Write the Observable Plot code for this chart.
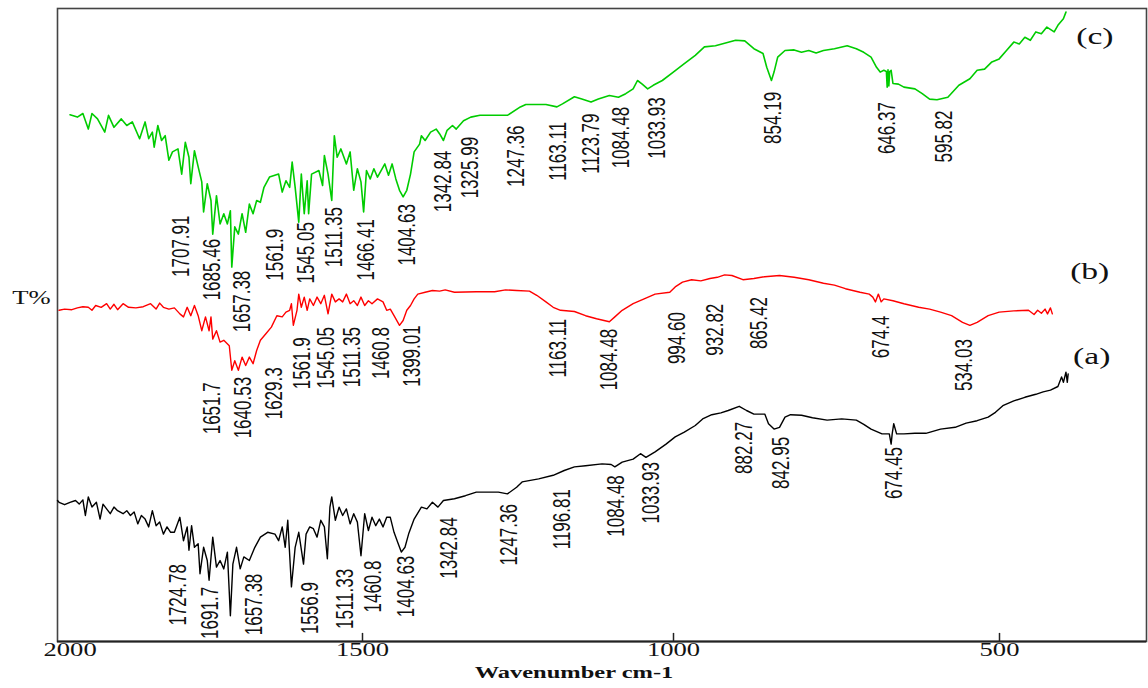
<!DOCTYPE html>
<html><head><meta charset="utf-8">
<script src="https://cdn.jsdelivr.net/npm/d3@7"></script>
<script src="https://cdn.jsdelivr.net/npm/@observablehq/plot@0.6"></script>
<style>body{margin:0;background:#fff}</style>
</head><body><div id="chart"></div>
<script>
// Wavenumber (cm-1) and transmittance (arbitrary T% units) for each spectrum
const wnC = [1979.5,1967.4,1958.4,1949.5,1943.5,1934.4,1922.5,1916.4,1907.4,1895.4,1886.4,1877.4,1865.4,1856.4,1850.5,1844.5,1841.5,1835.5,1829.4,1823.5,1817.4,1811.5,1802.5,1796.4,1790.5,1784.5,1781.5,1775.5,1769.4,1763.5,1760.5,1754.5,1748.4,1745.5,1739.4,1733.5,1727.4,1721.5,1716.6,1714.3,1709.4,1703.5,1697.4,1691.5,1685.5,1679.4,1673.5,1667.4,1661.5,1652.5,1637.5,1631.6,1625.5,1619.4,1615.3,1610.4,1604.5,1600.3,1595.5,1590.7,1588.3,1583.5,1571.5,1565.4,1562.5,1556.5,1550.4,1546.2,1541.5,1535.4,1526.4,1520.3,1514.4,1508.4,1502.5,1498.2,1493.6,1487.6,1481.7,1475.9,1464.1,1458.2,1452.4,1446.4,1440.5,1434.7,1428.8,1422.8,1417.0,1408.2,1405.3,1399.3,1390.5,1381.6,1375.9,1369.9,1364.0,1355.3,1349.3,1337.6,1325.9,1311.1,1267.0,1246.2,1237.4,1205.1,1187.4,1178.5,1159.3,1147.4,1132.6,1120.8,1103.1,1088.5,1076.8,1064.9,1057.9,1050.3,1041.5,1032.6,1018.0,1000.3,983.4,966.6,952.6,935.7,921.6,904.7,890.7,876.7,862.7,857.0,849.8,845.8,840.2,829.0,815.0,803.7,792.5,781.3,770.0,753.2,733.6,719.6,708.2,697.0,688.6,683.0,677.4,673.5,672.3,671.0,669.7,668.4,666.2,663.4,655.0,646.6,629.7,618.5,607.2,595.9,579.2,562.3,545.4,534.3,522.9,511.7,500.5,489.3,478.1,469.7,461.2,452.8,444.4,435.9,427.5,416.3,410.6,402.2,398.3];
const tC = [87.8,87.4,88.0,85.4,88.0,87.1,84.9,87.7,85.7,87.1,86.0,86.6,83.8,86.6,83.8,84.9,82.4,86.0,83.5,84.3,80.2,81.6,82.1,77.9,83.2,80.7,76.3,81.8,79.1,76.6,71.6,76.3,73.5,67.9,74.3,69.6,71.3,69.6,71.8,62.4,69.1,67.9,71.3,68.2,72.9,71.3,73.5,73.2,75.7,77.4,77.9,74.9,76.8,75.7,79.9,75.7,69.9,77.9,71.3,76.8,71.3,77.9,78.5,76.0,81.0,77.9,73.5,84.3,80.7,82.1,79.6,81.6,75.2,78.8,76.6,71.6,78.5,77.1,78.8,77.4,79.6,77.7,79.6,77.1,75.2,74.1,75.2,77.9,81.6,82.9,84.3,83.5,84.9,85.4,84.6,83.5,85.2,86.0,85.4,86.8,87.4,87.7,87.7,89.1,89.5,89.5,89.1,89.6,90.8,90.4,89.9,90.4,91.0,90.7,91.3,92.1,93.5,92.9,92.1,92.7,93.5,94.9,96.3,97.7,99.1,99.3,99.7,100.2,100.1,98.8,98.0,95.7,93.5,94.9,97.4,98.5,98.6,98.2,98.5,98.1,98.5,98.8,99.3,98.8,98.2,97.4,95.7,94.9,95.2,95.0,92.4,95.3,92.6,95.0,95.2,93.0,92.9,92.4,92.1,91.3,90.4,90.3,90.7,92.7,93.8,95.2,95.4,96.6,97.1,98.5,99.9,99.6,100.7,100.2,101.6,101.3,102.4,101.6,102.7,103.8,104.9];

const wnB = [1997.4,1988.4,1976.4,1967.4,1958.4,1949.5,1943.5,1937.4,1928.4,1919.5,1913.5,1907.4,1901.5,1892.5,1883.5,1871.5,1859.4,1847.4,1838.4,1832.5,1826.4,1817.4,1808.4,1799.4,1793.5,1787.4,1781.5,1775.5,1769.4,1763.5,1757.4,1751.5,1748.4,1745.5,1739.4,1733.5,1727.4,1718.4,1714.3,1709.4,1703.5,1697.4,1691.5,1685.5,1679.4,1673.5,1667.4,1658.4,1649.4,1640.4,1631.6,1625.5,1619.4,1616.5,1613.4,1607.4,1604.5,1600.3,1595.5,1590.7,1586.5,1580.5,1574.5,1568.4,1562.5,1556.5,1550.4,1544.5,1538.4,1532.5,1526.4,1520.3,1514.4,1508.4,1502.5,1496.5,1490.5,1484.7,1475.9,1467.0,1461.1,1455.3,1449.3,1440.5,1434.7,1428.8,1422.8,1417.0,1411.1,1399.3,1387.6,1375.9,1367.0,1352.2,1317.0,1287.6,1269.9,1252.2,1231.6,1219.9,1205.1,1193.4,1181.6,1159.3,1141.4,1123.7,1103.1,1094.3,1082.5,1064.9,1047.2,1029.6,1006.0,997.4,986.2,972.2,958.1,944.1,932.8,921.6,910.4,893.5,876.7,860.0,837.4,815.0,792.5,770.0,753.2,736.3,713.9,699.8,694.3,690.3,685.8,681.4,677.4,663.4,646.6,624.0,607.2,590.4,573.5,556.7,545.4,534.3,517.4,500.5,478.1,455.6,447.1,441.6,435.9,430.3,426.5,422.0,419.1];
const tB = [55.2,55.4,55.3,55.6,55.8,55.7,55.2,56.0,55.7,56.3,55.4,56.2,55.3,56.3,55.7,55.6,55.8,56.3,55.4,56.4,55.7,55.4,55.6,54.6,54.1,55.7,54.3,56.0,54.3,51.8,54.1,51.8,54.1,50.4,51.8,49.9,50.2,49.3,45.2,46.8,45.2,47.4,46.0,47.4,46.3,48.5,50.2,51.3,52.4,54.3,54.1,54.9,55.2,56.3,52.7,55.2,57.9,55.7,57.4,55.2,57.1,56.0,57.4,56.3,57.7,54.6,57.9,56.6,57.1,56.6,57.9,56.3,56.8,56.0,57.4,56.0,56.8,56.3,57.1,56.6,55.2,55.4,54.3,52.7,53.5,55.2,56.0,57.1,57.9,58.2,58.5,58.4,58.6,58.2,58.3,58.3,58.6,58.5,58.4,57.7,56.6,55.7,55.2,55.0,54.3,53.8,53.3,54.1,55.2,56.3,57.1,57.9,58.2,59.1,59.9,60.3,60.1,60.5,60.7,61.1,61.0,60.3,60.5,60.8,61.0,60.7,60.3,59.7,59.4,58.8,58.2,57.9,57.4,56.6,57.9,56.6,57.1,56.8,56.3,55.7,55.4,54.9,54.3,53.2,52.7,53.2,54.3,54.9,55.1,55.2,54.5,55.2,54.7,55.4,54.6,55.6,54.6];

const wnA = [2000,1997.4,1988.4,1979.5,1970.5,1964.4,1958.4,1954.3,1949.5,1943.5,1936.2,1930.2,1925.4,1919.5,1913.5,1907.4,1901.5,1892.5,1886.4,1880.5,1874.4,1868.4,1862.5,1856.4,1850.5,1844.5,1838.4,1832.5,1826.4,1820.5,1814.5,1808.4,1799.4,1793.5,1787.4,1784.5,1780.2,1775.5,1769.4,1766.4,1760.5,1754.5,1751.5,1745.5,1739.4,1733.5,1727.4,1721.5,1716.6,1712.5,1706.5,1700.5,1694.5,1685.5,1676.5,1667.4,1655.5,1643.5,1637.5,1631.6,1626.7,1622.5,1616.5,1610.4,1604.5,1596.7,1592.5,1586.5,1580.5,1574.5,1568.4,1562.5,1557.6,1553.4,1550.4,1544.5,1538.4,1532.5,1526.4,1520.3,1514.4,1508.4,1502.5,1496.5,1490.5,1484.7,1478.7,1472.9,1467.0,1461.1,1455.3,1449.3,1443.6,1437.6,1431.7,1425.9,1417.0,1405.3,1396.4,1387.6,1378.7,1369.9,1352.2,1334.5,1317.0,1299.3,1281.6,1267.0,1252.2,1243.4,1216.8,1193.4,1175.7,1159.3,1141.4,1114.9,1100.2,1094.3,1082.5,1064.9,1053.1,1044.3,1029.6,1012.0,997.4,983.4,966.6,955.3,941.3,927.3,916.1,899.2,888.0,876.7,860.0,854.3,845.8,837.4,829.0,820.5,803.6,786.9,764.4,742.0,719.6,708.2,697.0,680.2,669.0,666.2,664.6,662.2,657.8,646.6,629.7,612.9,590.4,568.0,551.2,534.3,517.4,506.2,494.9,478.1,461.2,444.4,433.2,422.0,410.6,405.0,402.2,398.3,396.2,394.9];
const tA = [23.5,23.2,22.8,23.2,23.5,22.9,23.6,21.0,24.1,22.4,23.2,20.4,22.9,22.1,21.3,22.4,21.8,21.3,21.8,21.0,21.6,19.6,21.0,20.4,19.1,21.8,19.3,19.9,17.9,19.1,18.2,18.2,20.7,16.8,19.1,15.2,19.3,15.7,16.3,11.3,15.7,13.5,10.2,17.4,12.4,13.5,12.1,14.9,4.3,12.9,15.7,12.1,14.1,13.5,15.7,17.4,18.2,17.9,16.8,19.1,15.7,20.2,9.1,15.7,18.2,12.9,17.9,19.1,18.8,17.4,20.2,19.1,13.8,22.4,24.1,20.2,22.4,21.0,22.1,19.6,21.3,19.9,14.3,21.3,18.5,20.7,19.3,20.4,19.1,20.7,20.7,18.2,16.6,14.9,15.7,17.9,20.4,22.4,22.1,23.2,22.4,23.5,23.8,24.3,24.9,24.9,24.9,24.6,25.7,26.6,27.1,27.7,28.5,29.1,29.3,29.6,29.5,29.1,29.9,30.4,31.3,30.7,31.6,32.9,34.1,34.9,36.0,37.1,37.8,38.1,38.5,39.2,38.5,37.9,37.9,36.3,35.4,35.7,37.4,37.8,37.7,37.3,36.9,37.1,36.9,36.2,35.4,34.6,34.6,32.9,34.6,36.3,34.6,34.6,34.7,34.7,35.4,35.7,36.4,36.8,37.4,38.2,39.3,40.1,40.7,41.2,41.6,41.9,42.5,44.1,43.2,44.9,43.2,44.6];

// Peak annotations: text, anchor wavenumber, anchor T%
const peakTextC = ["1707.91","1685.46","1657.38","1561.9","1545.05","1511.35","1466.41","1404.63","1342.84","1325.99","1247.36","1163.11","1123.79","1084.48","1033.93","854.19","646.37","595.82"];
const peakWnC = [1796.4,1746.7,1697.4,1642.2,1592.5,1546.2,1493.6,1427.6,1369.9,1325.9,1252.2,1184.5,1131.5,1083.7,1026.7,846.9,671.8,584.7];
const peakTC = [71.0,67.1,61.8,68.8,69.9,72.4,70.4,72.9,81.8,84.1,86.0,86.6,88.0,89.1,90.7,91.6,89.9,88.5];

const peakTextB = ["1651.7","1640.53","1629.3","1561.9","1545.05","1511.35","1460.8","1399.01","1163.11","1084.48","994.60","932.82","865.42","674.4","534.03"];
const peakWnB = [1746.7,1694.5,1644.6,1598.2,1559.3,1517.3,1469.9,1419.9,1184.5,1103.1,994.6,935.7,868.4,681.4,553.8];
const peakTB = [43.2,44.1,45.7,50.7,52.4,52.4,52.4,52.7,53.8,52.1,54.9,56.3,57.4,54.3,50.4];

const peakTextA = ["1724.78","1691.7","1657.38","1556.9","1511.33","1460.8","1404.63","1342.84","1247.36","1196.81","1084.48","1033.93","882.27","842.95","674.45"];
const peakWnA = [1801.3,1750.2,1676.5,1584.7,1528.8,1483.0,1429.9,1361.1,1264.0,1178.5,1091.4,1035.5,890.7,834.6,661.5];
const peakTA = [12.9,9.1,11.3,9.9,12.1,13.5,14.3,20.7,22.9,25.4,27.7,29.9,36.6,34.1,32.4];

const seriesNames = ["(c)","(b)","(a)"];
const seriesNameWn = [354,361.9,358.8];
const seriesNameT = [100.8,61.7,47.5];

const xTicks = [1500,1000,500];
const xTickFirst = 2000;
const xTitle = "Wavenumber cm-1";
const yTitle = "T%";

// The printed axis is slightly non-uniform: piecewise-linear breakpoints of the wavenumber axis
const axisBreaks = [2000, 1500, 1000, 500, 275];
const axisUnits  = [0, 305, 616, 942, 1089];
const warp = d3.scaleLinear().domain(axisBreaks).range(axisUnits);

const rows = (wn, t) => wn.map((w, i) => ({wn: w, t: t[i]}));
const peaks = (txt, wn, t) => txt.map((s, i) => ({label: s, wn: wn[i], t: t[i]}));

const peakStyle = {x: "wn", y: "t", text: "label", rotate: -90, textAnchor: "end",
  fontSize: 17, fontFamily: "Liberation Sans, Arial, sans-serif", fill: "#111", ariaLabel: "peaks"};

const chart = Plot.plot({
  width: 1148, height: 688,
  marginLeft: 57, marginRight: 2, marginTop: 8, marginBottom: 47,
  style: {background: "#fff", overflow: "visible"},
  x: {transform: warp, domain: [0, 1089], axis: null},
  y: {domain: [0, 105.5], axis: null},
  marks: [
    Plot.frame({stroke: "#444", strokeWidth: 1.6}),
    Plot.ruleY([0], {stroke: "#222", strokeWidth: 2}),
    Plot.ruleX(xTicks, {y1: 0, y2: 1.35, stroke: "#222", strokeWidth: 1.5}),
    Plot.line(rows(wnC, tC), {x: "wn", y: "t", stroke: "#00cc00", strokeWidth: 1.6}),
    Plot.line(rows(wnB, tB), {x: "wn", y: "t", stroke: "#ff0000", strokeWidth: 1.4}),
    Plot.line(rows(wnA, tA), {x: "wn", y: "t", stroke: "#000", strokeWidth: 1.4}),
    Plot.text(peaks(peakTextC, peakWnC, peakTC), peakStyle),
    Plot.text(peaks(peakTextB, peakWnB, peakTB), peakStyle),
    Plot.text(peaks(peakTextA, peakWnA, peakTA), peakStyle),
    Plot.text(seriesNames, {x: (d, i) => seriesNameWn[i], y: (d, i) => seriesNameT[i], text: d => d,
      fontSize: 24, fontFamily: "Liberation Serif, Times New Roman, serif", fill: "#111"}),
    Plot.text(xTicks, {x: d => d, frameAnchor: "bottom", dy: 14, text: d => String(d),
      fontSize: 19, fontFamily: "Liberation Serif, serif", fill: "#111"}),
    Plot.text([xTickFirst], {x: d => d, frameAnchor: "bottom", dy: 14, dx: -14, textAnchor: "start",
      text: d => String(d), fontSize: 19, fontFamily: "Liberation Serif, serif", fill: "#111"}),
    Plot.text([xTitle], {x: 1160, frameAnchor: "bottom", dy: 36, text: d => d,
      fontSize: 17.5, fontWeight: "bold", fontFamily: "Liberation Serif, serif", fill: "#111"}),
    Plot.text([yTitle], {frameAnchor: "left", y: 57.2, dx: -26, textAnchor: "middle", text: d => d,
      fontSize: 19, fontFamily: "Liberation Serif, serif", fill: "#111"})
  ]
});

// The reference figure is stretched horizontally; stretch every label the same way.
d3.select(chart).selectAll("text").each(function () {
  const t = this.getAttribute("transform") || "";
  const rotated = t.includes("rotate");
  const x = +this.getAttribute("x") || 0, y = +this.getAttribute("y") || 0;
  const s = rotated ? "scale(1,1.4)" : "scale(1.4,1)";
  this.setAttribute("transform", `${t} translate(${x},${y}) ${s} translate(${-x},${-y})`);
});

document.getElementById("chart").appendChild(chart);
</script>
</body></html>
